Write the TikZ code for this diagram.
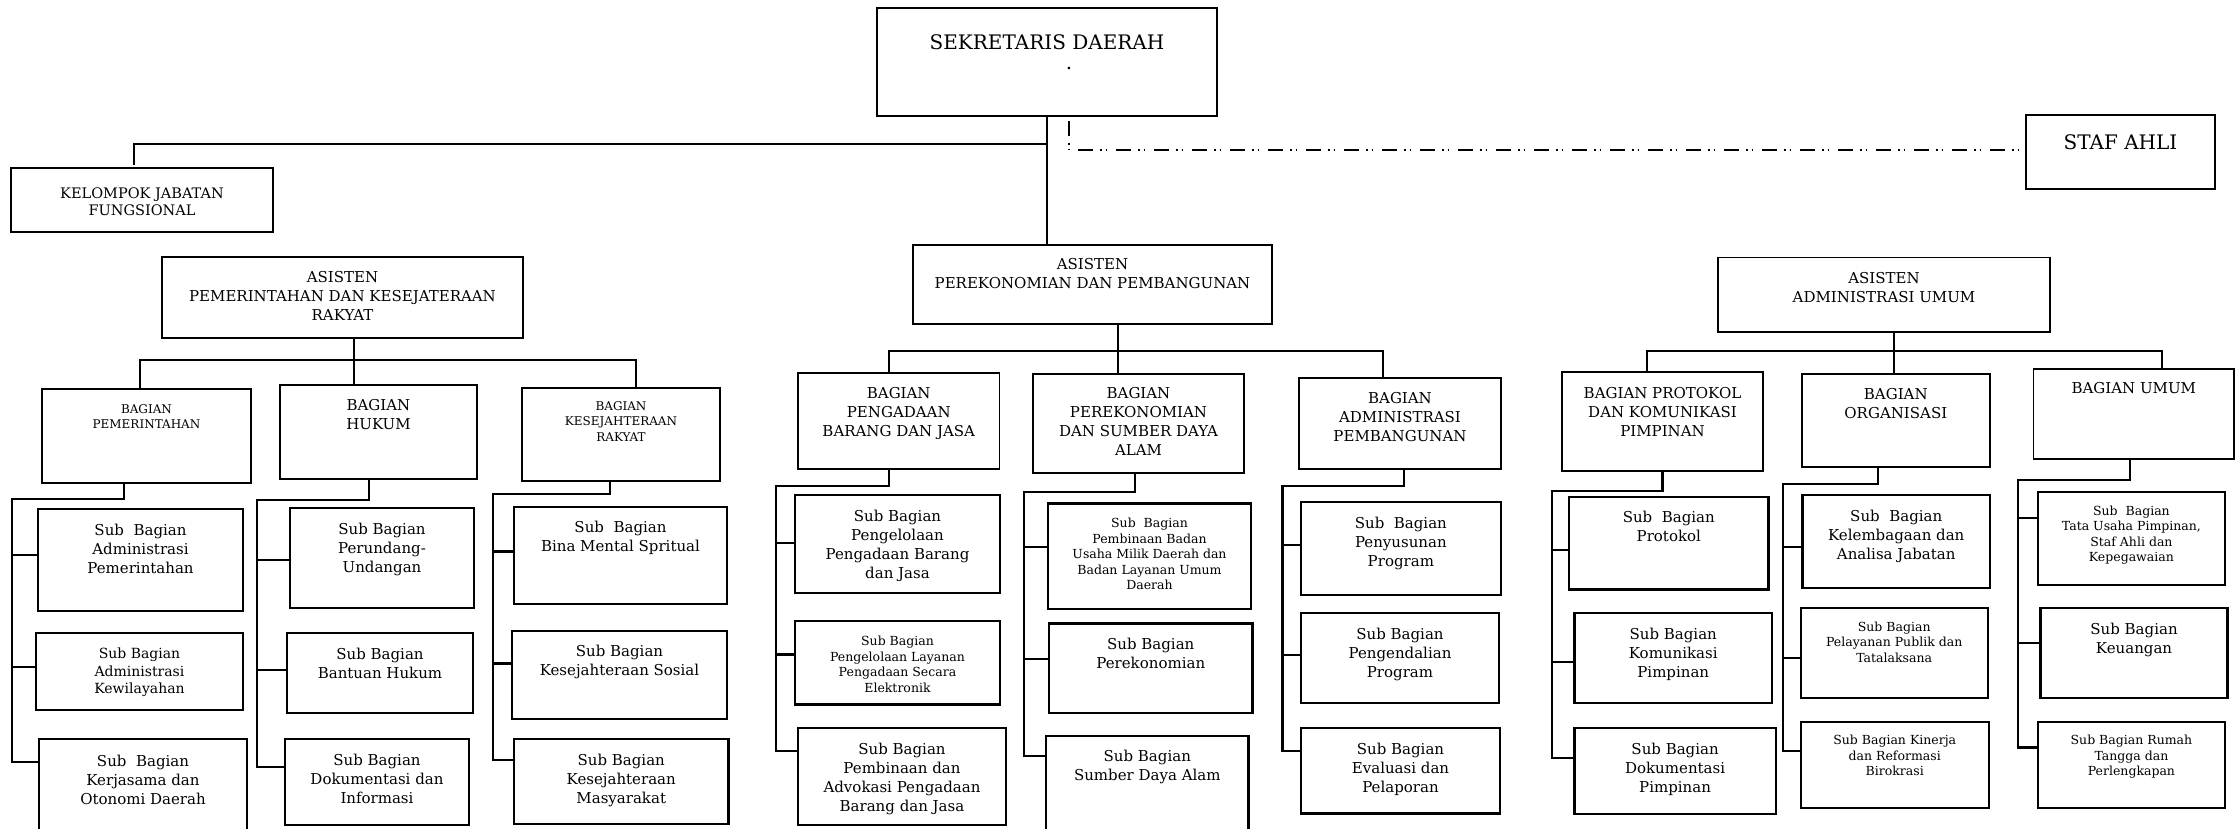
\documentclass[tikz,border=0pt]{standalone}
\usepackage{fontspec}
\setmainfont{DejaVu Serif}
\tikzset{
  unitbox/.style={draw, line width=1.8pt, inner sep=0pt, outer sep=0pt},
  subunit/.style={unitbox, line width=2.4pt},
  txt/.style={anchor=north, align=center, inner sep=0pt},
  link/.style={line width=2.2pt},
  staffline/.style={line width=1.5pt, dash pattern=on 15pt off 7pt on 1.5pt off 4pt on 1.5pt off 9pt},
  tbig/.style={font=\fontsize{20}{20}\selectfont},
  tmid/.style={font=\fontsize{15}{19}\selectfont},
  tfung/.style={font=\fontsize{14.5}{17}\selectfont},
  tkew/.style={font=\fontsize{14}{17.5}\selectfont},
  tsmall/.style={font=\fontsize{12.5}{15.5}\selectfont},
  tcaps/.style={font=\fontsize{12}{15.5}\selectfont}
}
\newcommand{\orgbox}[9]{%
  \node[#7, minimum width={(#4)-(#2)}, minimum height={(#5)-(#3)}] (#1) at ({((#2)+(#4))/2},{((#3)+(#5))/2}) {};
  \node[txt, #8] (#1-t) at ({((#2)+(#4))/2},{#6}) {#9};}
\begin{document}
\begin{tikzpicture}[x=1pt,y=-1pt]
        \useasboundingbox (0,0) rectangle (2239,828);
        \clip (0,0) rectangle (2239,828);
        \orgbox{sekda}{877}{8}{1217}{116}{34.5}{unitbox}{tbig}{SEKRETARIS DAERAH\\\hspace*{44pt}.}
        \orgbox{jafung}{11}{168}{273}{232}{187.5}{unitbox}{tfung}{KELOMPOK JABATAN\\FUNGSIONAL}
        \orgbox{staf}{2026}{115}{2215}{189}{134.5}{unitbox}{tbig}{STAF AHLI}
        \orgbox{asPem}{162}{257}{523}{338}{271}{unitbox}{tmid}{ASISTEN\\PEMERINTAHAN DAN KESEJATERAAN\\RAKYAT}
        \orgbox{asEko}{913}{245}{1272}{324}{258}{unitbox}{tmid}{ASISTEN\\PEREKONOMIAN DAN PEMBANGUNAN}
        \orgbox{asAdm}{1718}{257.5}{2050}{332}{271.7}{unitbox}{tmid}{ASISTEN\\ADMINISTRASI UMUM}

        \orgbox{bgPem}{42}{389}{251}{483}{404}{unitbox}{tcaps}{BAGIAN\\PEMERINTAHAN}
        \orgbox{bgHuk}{280}{385}{477}{479}{399.5}{unitbox}{tmid}{BAGIAN\\HUKUM}
        \orgbox{bgKes}{522}{388}{720}{481}{401}{unitbox}{tcaps}{BAGIAN\\KESEJAHTERAAN\\RAKYAT}
        \orgbox{bgPbj}{798}{373}{999.5}{469}{387.5}{unitbox}{tmid}{BAGIAN\\PENGADAAN\\BARANG DAN JASA}
        \orgbox{bgSda}{1033}{374}{1244}{473}{387.5}{unitbox}{tmid}{BAGIAN\\PEREKONOMIAN\\DAN SUMBER DAYA\\ALAM}
        \orgbox{bgAdp}{1299}{378}{1501}{469}{392.5}{unitbox}{tmid}{BAGIAN\\ADMINISTRASI\\PEMBANGUNAN}
        \orgbox{bgPro}{1562}{372}{1763}{471}{387.5}{unitbox}{tmid}{BAGIAN PROTOKOL\\DAN KOMUNIKASI\\PIMPINAN}
        \orgbox{bgOrg}{1801.6}{374}{1990}{467}{388.5}{unitbox}{tmid}{BAGIAN\\ORGANISASI}
        \orgbox{bgUmu}{2033.5}{369}{2234}{459}{382.5}{unitbox}{tmid}{BAGIAN UMUM}

        \orgbox{sbAdp}{38}{509}{243}{611}{524}{subunit}{tmid}{Sub~~Bagian\\Administrasi\\Pemerintahan}
        \orgbox{sbKew}{36}{633}{243}{710}{648}{subunit}{tkew}{Sub Bagian\\Administrasi\\Kewilayahan}
        \orgbox{sbKer}{39}{739}{247}{835}{754.5}{subunit}{tmid}{Sub~~Bagian\\Kerjasama dan\\Otonomi Daerah}
        \orgbox{sbPer}{290}{508}{474}{608}{523}{subunit}{tmid}{Sub Bagian\\Perundang-\\Undangan}
        \orgbox{sbBan}{287}{633}{473}{713}{648}{subunit}{tmid}{Sub Bagian\\Bantuan Hukum}
        \orgbox{sbDok}{285}{739}{469}{825}{754}{subunit}{tmid}{Sub Bagian\\Dokumentasi dan\\Informasi}
        \orgbox{sbBin}{514}{507}{727}{604}{521}{subunit}{tmid}{Sub~~Bagian\\Bina Mental Spritual}
        \orgbox{sbSos}{512}{631}{727}{719}{645}{subunit}{tmid}{Sub Bagian\\Kesejahteraan Sosial}
        \orgbox{sbMas}{514}{739}{728.5}{824}{754}{subunit}{tmid}{Sub Bagian\\Kesejahteraan\\Masyarakat}
        \orgbox{sbPpb}{795}{495}{1000}{593}{510}{subunit}{tmid}{Sub Bagian\\Pengelolaan\\Pengadaan Barang\\dan Jasa}
        \orgbox{sbLpe}{795}{621}{1000}{704.5}{636}{subunit}{tsmall}{Sub Bagian\\Pengelolaan Layanan\\Pengadaan Secara\\Elektronik}
        \orgbox{sbAdv}{798}{728}{1006}{825}{743}{subunit}{tmid}{Sub Bagian\\Pembinaan dan\\Advokasi Pengadaan\\Barang dan Jasa}
        \orgbox{sbBum}{1048}{503.5}{1251}{609}{518}{subunit}{tsmall}{Sub~~Bagian\\Pembinaan Badan\\Usaha Milik Daerah dan\\Badan Layanan Umum\\Daerah}
        \orgbox{sbEko}{1049}{623.6}{1252.5}{713}{638}{subunit}{tmid}{Sub Bagian\\Perekonomian}
        \orgbox{sbSda}{1046}{735.7}{1248.6}{835}{750}{subunit}{tmid}{Sub Bagian\\Sumber Daya Alam}
        \orgbox{sbPro}{1301}{502}{1500.7}{595}{517}{subunit}{tmid}{Sub~~Bagian\\Penyusunan\\Program}
        \orgbox{sbPen}{1301}{613}{1499}{703}{627.5}{subunit}{tmid}{Sub Bagian\\Pengendalian\\Program}
        \orgbox{sbEva}{1301}{728}{1500}{813.5}{742.7}{subunit}{tmid}{Sub Bagian\\Evaluasi dan\\Pelaporan}
        \orgbox{sbPtk}{1569}{497}{1768.6}{589.6}{511}{subunit}{tmid}{Sub~~Bagian\\Protokol}
        \orgbox{sbKom}{1574.5}{613}{1772}{703}{627.5}{subunit}{tmid}{Sub Bagian\\Komunikasi\\Pimpinan}
        \orgbox{sbDkp}{1574.5}{728}{1775.7}{814}{742.7}{subunit}{tmid}{Sub Bagian\\Dokumentasi\\Pimpinan}
        \orgbox{sbKel}{1802.5}{495}{1990}{587.7}{510}{subunit}{tmid}{Sub~~Bagian\\Kelembagaan dan\\Analisa Jabatan}
        \orgbox{sbPel}{1800.7}{608}{1987.7}{698}{621.6}{subunit}{tsmall}{Sub Bagian\\Pelayanan Publik dan\\Tatalaksana}
        \orgbox{sbKin}{1800.7}{722}{1988.7}{808}{735}{subunit}{tsmall}{Sub Bagian Kinerja\\dan Reformasi\\Birokrasi}
        \orgbox{sbTu}{2038}{492}{2224.8}{584.7}{505.7}{subunit}{tsmall}{Sub~~Bagian\\Tata Usaha Pimpinan,\\Staf Ahli dan\\Kepegawaian}
        \orgbox{sbKeu}{2040.5}{608}{2227.6}{698}{622.6}{subunit}{tmid}{Sub Bagian\\Keuangan}
        \orgbox{sbRt}{2038}{722}{2224.8}{808}{735}{subunit}{tsmall}{Sub Bagian Rumah\\Tangga dan\\Perlengkapan}

        \draw[link] (sekda.south) -- (sekda.south |- asEko.north);
        \draw[link] ([yshift=-28pt]sekda.south) -| ([xshift=-8pt,yshift=3pt]jafung.north);
        \draw[staffline] ([xshift=22pt,yshift=-5pt]sekda.south) |- ([yshift=2pt]staf.west);

        \draw[link] ([xshift=11.5pt]asPem.south) -- ++(0,47);
        \draw[link] ([xshift=-6.5pt]bgPem.north) -- ++(0,-29) -| ([xshift=15pt]bgKes.north);
        \draw[link] ([xshift=25.5pt]asEko.south) -- ++(0,50);
        \draw[link] ([xshift=-9.75pt]bgPbj.north) -- ++(0,-22) -| ([xshift=-17pt]bgAdp.north);
        \draw[link] ([xshift=10pt]asAdm.south) -- ++(0,42);
        \draw[link] ([xshift=-15.5pt]bgPro.north) -- ++(0,-21) -| ([xshift=28.25pt]bgUmu.north);

        \draw[link] ([xshift=-22.5pt]bgPem.south) |- ++(-112,16) -- ++(0,263) -- ++(27,0);
        \draw[link] ([yshift=5pt]sbAdp.west) -- ++(-26,0);
        \draw[link] ([yshift=4.5pt]sbKew.west) -- ++(-24,0);
        \draw[link] ([xshift=-9.5pt]bgHuk.south) |- ++(-112,21) -- ++(0,267) -- ++(28,0);
        \draw[link] ([yshift=-2pt]sbPer.west) -- ++(-33,0);
        \draw[link] ([yshift=3pt]sbBan.west) -- ++(-30,0);
        \draw[link] ([xshift=-11pt]bgKes.south) |- ++(-117,13) -- ++(0,266) -- ++(21,0);
        \draw[link] ([yshift=4pt]sbBin.west) -- ++(-21,0);
        \draw[link] ([yshift=11.5pt]sbSos.west) -- ++(-19,0);

        \draw[link] ([xshift=-9.75pt]bgPbj.south) |- ++(-113,17) -- ++(0,265) -- ++(22,0);
        \draw[link] ([yshift=1pt]sbPpb.west) -- ++(-19,0);
        \draw[link] ([yshift=8.25pt]sbLpe.west) -- ++(-19,0);
        \draw[link] ([xshift=-3.5pt]bgSda.south) |- ++(-111,18.6) -- ++(0,264) -- ++(22,0);
        \draw[link] ([yshift=9.25pt]sbBum.west) -- ++(-24,0);
        \draw[link] ([yshift=9.3pt]sbEko.west) -- ++(-25,0);
        \draw[link] ([xshift=4pt]bgAdp.south) |- ++(-121.5,17) -- ++(0,265) -- ++(18.5,0);
        \draw[link] ([yshift=3.9pt]sbPro.west) -- ++(-18.5,0);
        \draw[link] ([yshift=3pt]sbPen.west) -- ++(-18.5,0);

        \draw[link] (bgPro.south) |- ++(-110.5,20) -- ++(0,267) -- ++(22.5,0);
        \draw[link] ([yshift=-6.7pt]sbPtk.west) -- ++(-17,0);
        \draw[link] ([yshift=-4pt]sbKom.west) -- ++(-22.5,0);
        \draw[link] ([xshift=-17.8pt]bgOrg.south) |- ++(-95,17) -- ++(0,266.6) -- ++(17.7,0);
        \draw[link] ([yshift=-5.65pt]sbKel.west) -- ++(-19.5,0);
        \draw[link] ([yshift=-5pt]sbPel.west) -- ++(-17.7,0);
        \draw[link] ([xshift=-4.15pt]bgUmu.south) |- ++(-111.6,21) -- ++(0,267.5) -- ++(20,0);
        \draw[link] ([yshift=20.35pt]sbTu.west) -- ++(-20,0);
        \draw[link] ([yshift=10pt]sbKeu.west) -- ++(-22.5,0);
\end{tikzpicture}
\end{document}
